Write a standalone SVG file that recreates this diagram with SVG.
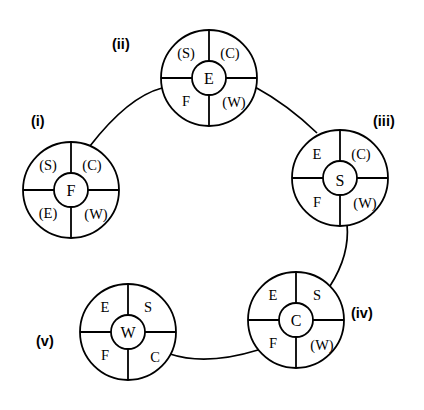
<svg xmlns="http://www.w3.org/2000/svg" width="424" height="410" viewBox="0 0 424 410">
<style>
.o{fill:#fff;stroke:#000;stroke-width:1.8}
.l{stroke:#000;stroke-width:1.8}
.c{fill:none;stroke:#000;stroke-width:1.7}
.t{font-family:"Liberation Serif",serif;font-size:14.5px;text-anchor:middle;dominant-baseline:central;fill:#000}
.m{font-family:"Liberation Serif",serif;font-size:16px;text-anchor:middle;dominant-baseline:central;fill:#000}
.n{font-family:"Liberation Sans",Arial,sans-serif;font-size:14.5px;font-weight:bold;fill:#000}
</style>
<defs>
<g id="wheel">
<circle class="o" r="48"/>
<line class="l" x1="0" y1="-48" x2="0" y2="48"/>
<line class="l" x1="-48" y1="0" x2="48" y2="0"/>
<circle class="o" r="17"/>
</g>
</defs>
<g id="connectors">
<path class="c" d="M90,146 Q128,97 162,88"/>
<path class="c" d="M255,87 Q288,105 317,133"/>
<path class="c" d="M347,224 Q350,255 330,286"/>
<path class="c" d="M170,354 Q206,366 258,350"/>
</g>
<g id="node-i" transform="translate(71,190)">
<use href="#wheel"/>
<text class="m" x="0" y="0">F</text>
<text class="t" x="-23" y="-25">(S)</text>
<text class="t" x="21" y="-25">(C)</text>
<text class="t" x="-23" y="23">(E)</text>
<text class="t" x="25" y="24">(W)</text>
</g>
<g id="node-ii" transform="translate(209,78)">
<use href="#wheel"/>
<text class="m" x="0" y="0">E</text>
<text class="t" x="-23" y="-25">(S)</text>
<text class="t" x="21" y="-25">(C)</text>
<text class="t" x="-23" y="23">F</text>
<text class="t" x="25" y="24">(W)</text>
</g>
<g id="node-iii" transform="translate(340,178)">
<use href="#wheel"/>
<text class="m" x="0" y="2">S</text>
<text class="t" x="-23" y="-24">E</text>
<text class="t" x="21" y="-24">(C)</text>
<text class="t" x="-23" y="24">F</text>
<text class="t" x="25" y="25">(W)</text>
</g>
<g id="node-iv" transform="translate(296,320)">
<use href="#wheel"/>
<text class="m" x="0" y="0">C</text>
<text class="t" x="-23" y="-25">E</text>
<text class="t" x="21" y="-25">S</text>
<text class="t" x="-23" y="23">F</text>
<text class="t" x="26" y="25">(W)</text>
</g>
<g id="node-v" transform="translate(128,332)">
<use href="#wheel"/>
<text class="m" x="0" y="0">W</text>
<text class="t" x="-23" y="-25">E</text>
<text class="t" x="20" y="-25">S</text>
<text class="t" x="-23" y="23">F</text>
<text class="t" x="27" y="25">C</text>
</g>
<g id="labels">
<text class="n" x="112" y="49">(ii)</text>
<text class="n" x="31" y="126">(i)</text>
<text class="n" x="373" y="126">(iii)</text>
<text class="n" x="351" y="318">(iv)</text>
<text class="n" x="36" y="346">(v)</text>
</g>
</svg>
